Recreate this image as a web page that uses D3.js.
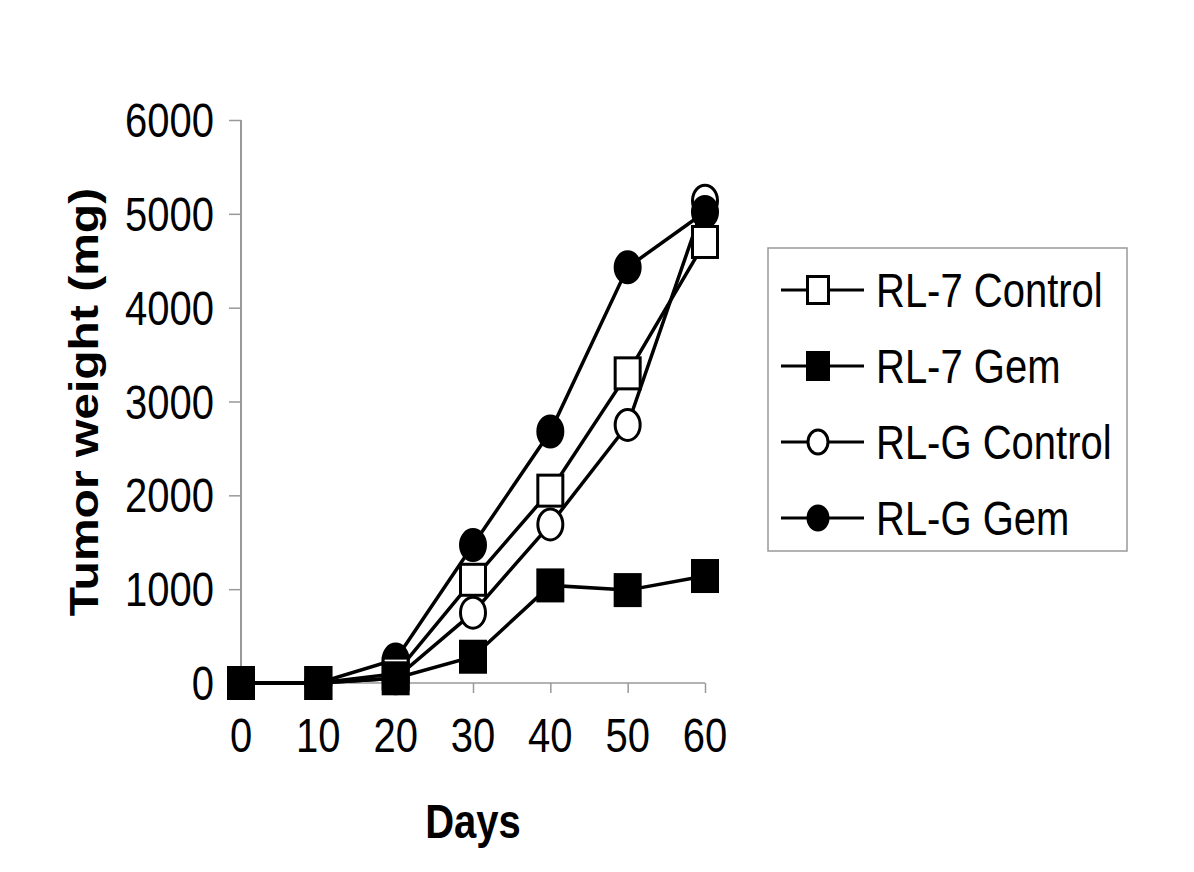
<!DOCTYPE html>
<html>
<head>
<meta charset="utf-8">
<script src="https://cdn.jsdelivr.net/npm/d3@7"></script>
<style>
  body { margin: 0; background: #fff; }
  text { font-family: Arial, "Liberation Sans", sans-serif; fill: #000; }
</style>
</head>
<body>
<svg id="chart" width="1194" height="872"></svg>
<script>
const days = [0, 10, 20, 30, 40, 50, 60]
const yTicks = [0, 1000, 2000, 3000, 4000, 5000, 6000]
const rl7Control = [0, 0, 100, 1100, 2050, 3300, 4700]
const rl7Gem = [0, 0, 50, 280, 1040, 990, 1140]
const rlgControl = [0, 0, 50, 750, 1690, 2750, 5140]
const rlgGem = [0, 0, 250, 1470, 2680, 4430, 5020]

// draw order matters: later series sit on top
const series = [
  { name: 'RL-G Control', values: rlgControl, shape: 'circle', fill: '#fff' },
  { name: 'RL-G Gem', values: rlgGem, shape: 'circle', fill: '#000' },
  { name: 'RL-7 Control', values: rl7Control, shape: 'square', fill: '#fff' },
  { name: 'RL-7 Gem', values: rl7Gem, shape: 'square', fill: '#000' }
]
const legendOrder = ['RL-7 Control', 'RL-7 Gem', 'RL-G Control', 'RL-G Gem']

const svg = d3.select('#chart')
const x = d3.scaleLinear().domain([0, 60]).range([241, 705])
const y = d3.scaleLinear().domain([0, 6000]).range([683, 120])
const stretch = 1.2
const axisColor = '#999'

// text looks stretched vertically in the original, so scale each label
const label = (g, tx, ty, str, anchor, bold) => g.append('text')
  .attr('transform', `translate(${tx},${ty}) scale(1,${stretch})`)
  .attr('text-anchor', anchor)
  .style('font-size', '40px')
  .style('font-weight', bold ? 'bold' : 'normal')
  .text(str)

// y axis
const yAxis = svg.append('g')
  .attr('transform', `translate(${x(0)},0)`)
  .call(d3.axisLeft(y).tickValues(yTicks).tickSize(12).tickFormat(''))
yAxis.select('.domain').attr('stroke', axisColor).attr('stroke-width', 2).attr('d', `M0,${y(6000)}V${y(0)}`)
yAxis.selectAll('.tick line').attr('stroke', axisColor).attr('stroke-width', 1.5)
yTicks.forEach(v => label(svg, 214, y(v) + 17, v, 'end'))

// x axis
const xAxis = svg.append('g')
  .attr('transform', `translate(0,${y(0)})`)
  .call(d3.axisBottom(x).tickValues(days).tickSize(10).tickFormat(''))
xAxis.select('.domain').attr('stroke', axisColor).attr('stroke-width', 1.5).attr('d', `M${x(0)},0H${x(60)}`)
xAxis.selectAll('.tick line').attr('stroke', axisColor).attr('stroke-width', 1.5)
days.forEach(d => label(svg, x(d), 752, d, 'middle'))

// axis titles
label(svg, 473, 838, 'Days', 'middle', true)
svg.append('text')
  .attr('transform', `translate(98,402) rotate(-90) scale(${stretch},1)`)
  .attr('text-anchor', 'middle')
  .style('font-size', '40px')
  .style('font-weight', 'bold')
  .text('Tumor weight (mg)')

const drawMarker = (g, s, cx, cy, w, h) => {
  if (s.shape === 'square') {
    g.append('rect')
      .attr('x', cx - w / 2).attr('y', cy - h / 2)
      .attr('width', w).attr('height', h)
      .attr('fill', s.fill).attr('stroke', '#000').attr('stroke-width', 3)
  } else {
    g.append('ellipse')
      .attr('cx', cx).attr('cy', cy)
      .attr('rx', w / 2).attr('ry', h / 2)
      .attr('fill', s.fill).attr('stroke', '#000').attr('stroke-width', 3)
  }
}

const line = d3.line().x((d, i) => x(days[i])).y(d => y(d))
const plot = svg.append('g')
series.forEach(s => {
  const g = plot.append('g')
  g.append('path')
    .attr('d', line(s.values))
    .attr('fill', 'none')
    .attr('stroke', '#000')
    .attr('stroke-width', 3.5)
  s.values.forEach((v, i) => drawMarker(g, s, x(days[i]), y(v), 25, 31))
})

// legend
const legend = svg.append('g')
legend.append('rect')
  .attr('x', 768).attr('y', 248)
  .attr('width', 359).attr('height', 303)
  .attr('fill', '#fff').attr('stroke', axisColor).attr('stroke-width', 1.5)
legendOrder.forEach((name, i) => {
  const s = series.find(d => d.name === name)
  const cy = 290 + i * 76
  legend.append('line')
    .attr('x1', 781).attr('x2', 864)
    .attr('y1', cy).attr('y2', cy)
    .attr('stroke', '#000').attr('stroke-width', 3)
  drawMarker(legend, s, 818, cy, s.shape === 'square' ? 21 : 20, s.shape === 'square' ? 27 : 24)
  label(legend, 876, cy + 17, name, 'start')
})
</script>
</body>
</html>
